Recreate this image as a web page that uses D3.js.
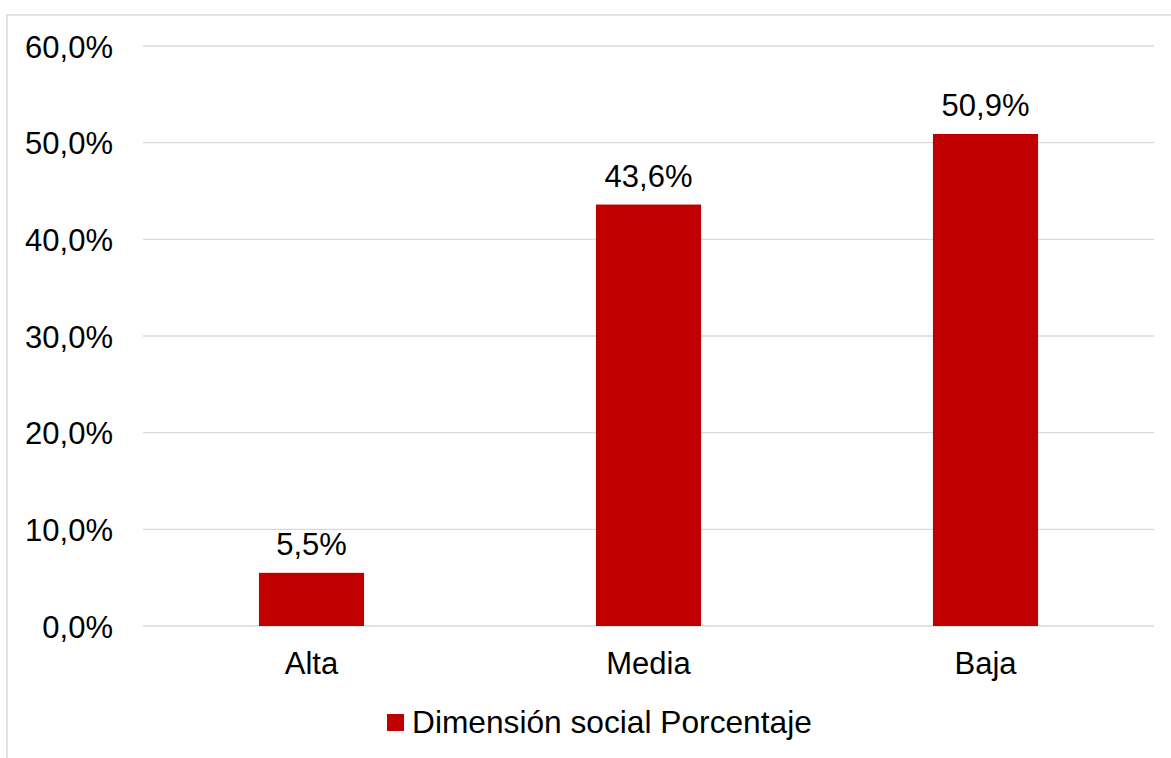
<!DOCTYPE html>
<html>
<head>
<meta charset="utf-8">
<script src="https://cdn.jsdelivr.net/npm/d3@7"></script>
<style>
  html, body { margin: 0; padding: 0; background: #fff; }
  svg { display: block; font-family: "Liberation Sans", Arial, sans-serif; }
</style>
</head>
<body>
<svg id="chart" width="1171" height="758"></svg>
<script>
// Levels of the social dimension and their share
const categories = ["Alta", "Media", "Baja"];
const values = [0.055, 0.436, 0.509];
const yTicks = [0, 0.1, 0.2, 0.3, 0.4, 0.5, 0.6];
const seriesName = "Dimensión social Porcentaje";

const svg = d3.select("#chart");
const W = 1171, H = 758;
const plot = { left: 143, right: 1154, top: 46, bottom: 626 };
const FONT = 31;

const pct = v => d3.format(".1f")(v * 100).replace(".", ",") + "%";

// Chart frame (partly outside the visible area)
svg.append("rect")
  .attr("x", 7).attr("y", 15)
  .attr("width", W + 20).attr("height", H + 20)
  .attr("fill", "#fff")
  .attr("stroke", "#d9d9d9")
  .attr("stroke-width", 1.5);

const x = d3.scaleBand().domain(categories).range([plot.left, plot.right]).padding(0);
const y = d3.scaleLinear().domain([0, 0.6]).range([plot.bottom, plot.top]);

// Horizontal gridlines
svg.append("g")
  .selectAll("line")
  .data(yTicks)
  .join("line")
  .attr("x1", plot.left).attr("x2", plot.right)
  .attr("y1", d => y(d)).attr("y2", d => y(d))
  .attr("stroke", "#d9d9d9")
  .attr("stroke-width", 1.3);

// Y axis labels
const yAxis = d3.axisLeft(y).tickValues(yTicks).tickFormat(pct).tickSize(0).tickPadding(30);
const gy = svg.append("g").attr("transform", `translate(${plot.left},0)`).call(yAxis);
gy.select(".domain").remove();
gy.selectAll("text")
  .attr("font-family", "Liberation Sans, Arial, sans-serif")
  .attr("font-size", FONT)
  .attr("fill", "#000")
  .attr("dy", null)
  .attr("y", 11);

// Category axis labels
const xAxis = d3.axisBottom(x).tickSize(0);
const gx = svg.append("g").attr("transform", `translate(0,${plot.bottom})`).call(xAxis);
gx.select(".domain").remove();
gx.selectAll("text")
  .attr("font-family", "Liberation Sans, Arial, sans-serif")
  .attr("font-size", FONT)
  .attr("fill", "#000")
  .attr("dy", null)
  .attr("y", 48);

// Bars
const barFrac = 0.312;
const bw = x.bandwidth() * barFrac;
const rows = categories.map((c, i) => ({ c, v: values[i] }));
svg.append("g")
  .selectAll("rect")
  .data(rows)
  .join("rect")
  .attr("x", d => x(d.c) + (x.bandwidth() - bw) / 2)
  .attr("y", d => y(d.v))
  .attr("width", bw)
  .attr("height", d => y(0) - y(d.v))
  .attr("fill", "#c00000");

// Value labels
svg.append("g")
  .selectAll("text")
  .data(rows)
  .join("text")
  .attr("x", d => x(d.c) + x.bandwidth() / 2)
  .attr("y", d => y(d.v) - 18)
  .attr("text-anchor", "middle")
  .attr("font-size", FONT)
  .attr("fill", "#000")
  .text(d => pct(d.v));

// Legend
const lg = svg.append("g");
lg.append("rect")
  .attr("x", 387).attr("y", 714)
  .attr("width", 17).attr("height", 17)
  .attr("fill", "#c00000");
lg.append("text")
  .attr("x", 412).attr("y", 733)
  .attr("font-size", 31.7)
  .attr("fill", "#000")
  .text(seriesName);
</script>
</body>
</html>
